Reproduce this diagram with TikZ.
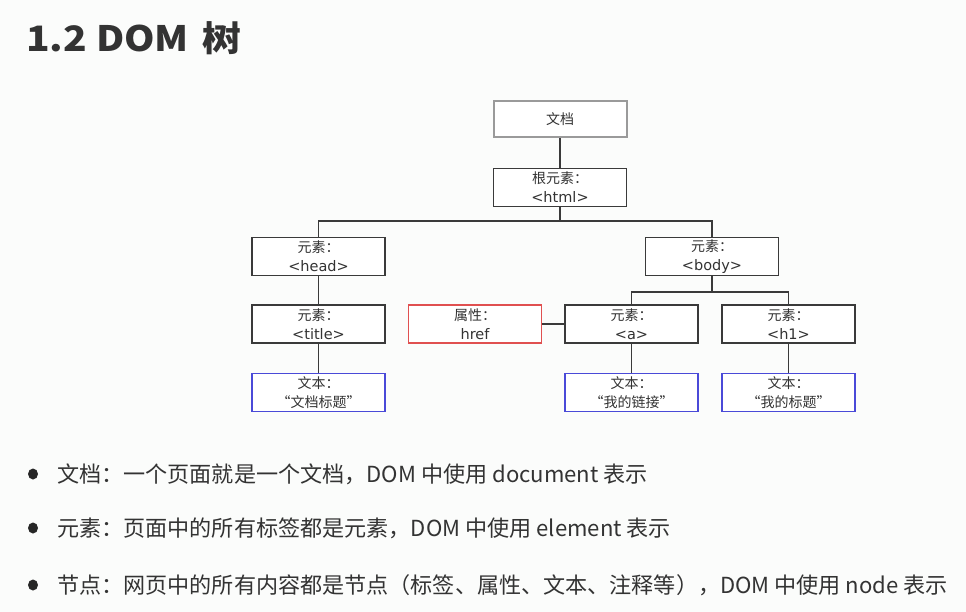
\documentclass[tikz,border=0pt]{standalone}
\usepackage{fontspec}
\setmainfont{Noto Sans CJK SC}
\newfontfamily\cjk{Noto Sans CJK SC}
\newfontfamily\boxlatin{DejaVu Sans}
\definecolor{bg}{HTML}{FBFCFB}
\definecolor{ink}{HTML}{333333}
\definecolor{boxline}{HTML}{3A3A3A}
\definecolor{docline}{HTML}{9A9A9A}
\definecolor{attrred}{HTML}{E05050}
\definecolor{textblue}{HTML}{4A4AD8}
\tikzset{
  treebox/.style={draw=boxline, line width=1.1pt, fill=white, minimum width=133pt, minimum height=38pt, inner sep=0pt, align=center, text=ink, font=\cjk\fontsize{14}{19}\selectfont},
  docbox/.style={treebox, draw=docline, line width=2pt, minimum height=36pt},
  attrbox/.style={treebox, draw=attrred},
  txtbox/.style={treebox, draw=textblue},
  conn/.style={draw=boxline, line width=1.1pt},
  bullettext/.style={anchor=west, inner sep=0pt, text=ink, font=\cjk\fontsize{22.1}{26}\selectfont},
  bulletdot/.style={ellipse, fill=black!85, inner sep=0pt, minimum width=10pt, minimum height=11pt}
}
\usetikzlibrary{shapes.geometric}
\newcommand{\tagline}[1]{{\boxlatin\fontsize{14.5}{19}\selectfont #1}}
\begin{document}
\begin{tikzpicture}[x=1pt,y=-1pt]
\useasboundingbox (0,0) rectangle (966,612);
\fill[bg] (0,0) rectangle (966,612);
% title
\node[anchor=base west, inner sep=0pt, text=ink, font=\cjk\bfseries\fontsize{35}{40}\selectfont] (title) at (26,52) {\scalebox{1.11}[1]{1.2 DOM\hspace{4pt} 树}};
% tree
\node[docbox] (doc) at (560,119) {文档};
\node[treebox] (html) at (560,187.5) {根元素：\\\tagline{<html>}};
\node[treebox] (head) at (318.5,256.5) {元素：\\\tagline{<head>}};
\node[treebox] (body) at (712,256.5) {元素：\\\tagline{<body>}};
\node[treebox] (titleel) at (318.5,324) {元素：\\\tagline{<title>}};
\node[attrbox] (href) at (475,324) {属性：\\\tagline{href}};
\node[treebox] (a) at (631.5,324) {元素：\\\tagline{<a>}};
\node[treebox] (h1) at (788.5,324) {元素：\\\tagline{<h1>}};
\node[txtbox] (t1) at (318.5,392.5) {文本：\\“文档标题”};
\node[txtbox] (t2) at (631.5,392.5) {文本：\\“我的链接”};
\node[txtbox] (t3) at (788.5,392.5) {文本：\\“我的标题”};
\coordinate (j1) at (560,221);
\coordinate (j2) at (712,292);
\draw[conn] (doc) -- (html);
\draw[conn] (html.south) -- (j1);
\draw[conn] (j1) -| (head.north);
\draw[conn] (j1) -| (body.north);
\draw[conn] (body.south) -- (j2);
\draw[conn] (j2) -| (a.north);
\draw[conn] (j2) -| (h1.north);
\draw[conn] (head) -- (titleel);
\draw[conn] (titleel) -- (t1);
\draw[conn] (a) -- (t2);
\draw[conn] (h1) -- (t3);
\draw[conn] (href) -- (a);
% bullets
\node[bulletdot] (d1) at (33,474) {};
\node[bulletdot] (d2) at (33,528) {};
\node[bulletdot] (d3) at (33,585) {};
\node[bullettext] (b1) at (57,474) {文档：一个页面就是一个文档，DOM 中使用 document 表示};
\node[bullettext] (b2) at (57,528) {元素：页面中的所有标签都是元素，DOM 中使用 element 表示};
\node[bullettext] (b3) at (57,585) {节点：网页中的所有内容都是节点（标签、属性、文本、注释等），DOM 中使用 node 表示};
\end{tikzpicture}
\end{document}
